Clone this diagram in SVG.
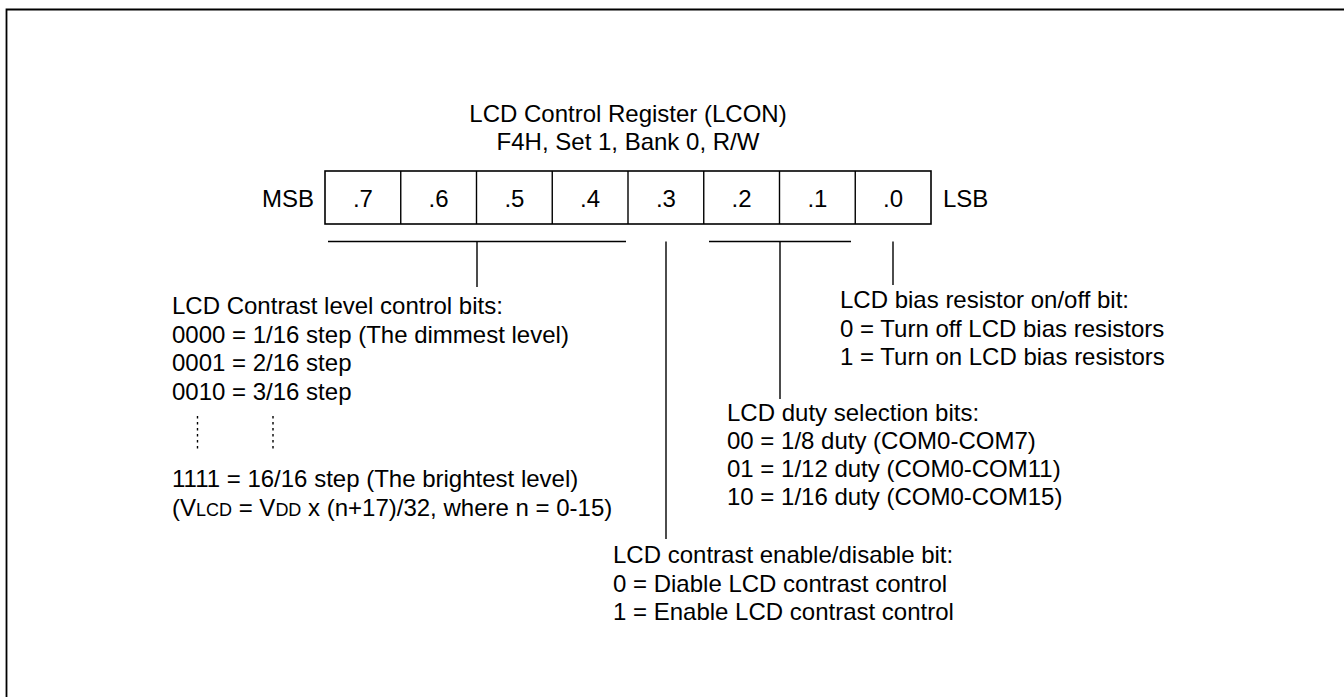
<svg xmlns="http://www.w3.org/2000/svg" width="1344" height="697" viewBox="0 0 1344 697">
<style>
text{font-family:"Liberation Sans",Arial,sans-serif;font-size:24px;fill:#000}
.ln{stroke:#000;stroke-width:1.4;fill:none}
.bx{stroke:#000;stroke-width:1.6;fill:#fff}
.dot{stroke:#000;stroke-width:1.4;stroke-dasharray:2.5 3.5;fill:none}
.sm{font-size:18px}
</style>
<rect width="1344" height="697" fill="#fff"/>
<path d="M6.5 697 V9.5 H1344" stroke="#000" stroke-width="1.8" fill="none"/>
<g id="title">
<text x="628" y="122" text-anchor="middle">LCD Control Register (LCON)</text>
<text x="628" y="150" text-anchor="middle">F4H, Set 1, Bank 0, R/W</text>
</g>
<g id="register">
<rect class="bx" x="325" y="171" width="606" height="53"/>
<path class="ln" d="M400.75 171V224M476.5 171V224M552.25 171V224M628 171V224M703.75 171V224M779.5 171V224M855.25 171V224"/>
<text x="314" y="207" text-anchor="end">MSB</text>
<text x="943" y="207">LSB</text>
<g text-anchor="middle">
<text x="362.9" y="207">.7</text>
<text x="438.6" y="207">.6</text>
<text x="514.4" y="207">.5</text>
<text x="590.1" y="207">.4</text>
<text x="665.9" y="207">.3</text>
<text x="741.6" y="207">.2</text>
<text x="817.4" y="207">.1</text>
<text x="893.1" y="207">.0</text>
</g>
</g>
<g id="connectors">
<path class="ln" d="M328 241.5H626M477 241.5V287"/>
<path class="ln" d="M666 241.5V539"/>
<path class="ln" d="M709 241.5H851M780 241.5V399"/>
<path class="ln" d="M893 241.5V285"/>
</g>
<g id="contrast-level">
<text x="172" y="314">LCD Contrast level control bits:</text>
<text x="172" y="342.5">0000 = 1/16 step (The dimmest level)</text>
<text x="172" y="371">0001 = 2/16 step</text>
<text x="172" y="399.5">0010 = 3/16 step</text>
<path class="dot" d="M197.5 416V451M273 416V451"/>
<text x="172" y="487">1111 = 16/16 step (The brightest level)</text>
<text x="172" y="515.5">(V<tspan class="sm">LCD</tspan> = V<tspan class="sm">DD</tspan> x (n+17)/32, where n = 0-15)</text>
</g>
<g id="bias">
<text x="840" y="308">LCD bias resistor on/off bit:</text>
<text x="840" y="336.5">0 = Turn off LCD bias resistors</text>
<text x="840" y="365">1 = Turn on LCD bias resistors</text>
</g>
<g id="duty">
<text x="727" y="420.5">LCD duty selection bits:</text>
<text x="727" y="448.5">00 = 1/8 duty (COM0-COM7)</text>
<text x="727" y="477">01 = 1/12 duty (COM0-COM11)</text>
<text x="727" y="505">10 = 1/16 duty (COM0-COM15)</text>
</g>
<g id="contrast-enable">
<text x="613" y="563">LCD contrast enable/disable bit:</text>
<text x="613" y="591.5">0 = Diable LCD contrast control</text>
<text x="613" y="620">1 = Enable LCD contrast control</text>
</g>
</svg>
